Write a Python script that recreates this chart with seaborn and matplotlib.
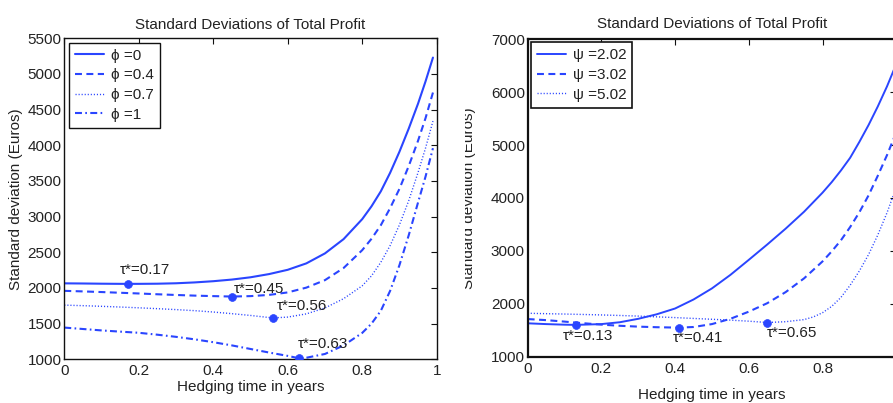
import matplotlib
matplotlib.use("Agg")
import matplotlib.pyplot as plt
import seaborn as sns
from matplotlib.transforms import Bbox, TransformedBbox

# ---- left panel: standard deviation of total profit for several phi ----
phi0_t = [0, .05, .1, .15, .17, .2, .25, .3, .35, .4, .45, .5, .55, .6, .65, .7, .75, .8, .825,
          .85, .875, .9, .925, .95, .97, .99]
phi0_sd = [2065, 2063, 2060, 2058, 2058, 2058, 2060, 2066, 2078, 2095, 2118, 2150, 2195, 2255, 2345,
           2485, 2685, 2965, 3145, 3355, 3615, 3910, 4235, 4585, 4895, 5230]

phi04_t = [0, .05, .1, .15, .2, .25, .3, .35, .4, .45, .5, .55, .6, .65, .7, .75, .8, .825, .85,
           .875, .9, .925, .95, .97, .99]
phi04_sd = [1960, 1952, 1943, 1933, 1923, 1912, 1902, 1893, 1886, 1880, 1886, 1903, 1938, 2005, 2110,
            2280, 2530, 2690, 2880, 3120, 3390, 3710, 4065, 4380, 4740]

phi07_t = [0, .05, .1, .15, .2, .25, .3, .35, .4, .45, .5, .56, .6, .65, .7, .75, .8, .825, .85,
           .875, .9, .925, .95, .97, .99]
phi07_sd = [1760, 1752, 1743, 1733, 1722, 1710, 1697, 1682, 1663, 1640, 1615, 1580, 1592, 1637, 1720,
            1850, 2030, 2170, 2360, 2595, 2885, 3225, 3620, 3960, 4340]

phi1_t = [0, .05, .1, .15, .2, .25, .3, .35, .4, .45, .5, .55, .6, .63, .65, .7, .75, .8, .825,
          .85, .875, .9, .925, .95, .97, .99]
phi1_sd = [1445, 1425, 1405, 1388, 1372, 1345, 1315, 1280, 1240, 1195, 1145, 1095, 1048, 1015, 1022,
           1075, 1195, 1370, 1500, 1680, 1960, 2320, 2740, 3200, 3560, 3960]

phi_labels = ["ϕ =0", "ϕ =0.4", "ϕ =0.7", "ϕ =1"]
phi_tau = [0.17, 0.45, 0.56, 0.63]
phi_tau_sd = [2058, 1880, 1580, 1015]

# ---- right panel: standard deviation of total profit for several psi ----
psi202_t = [0, .05, .1, .13, .2, .25, .3, .35, .4, .45, .5, .55, .6, .65, .7, .75, .8, .825, .85,
            .875, .9, .925, .95, .975, 1.0]
psi202_sd = [1630, 1615, 1604, 1600, 1615, 1650, 1715, 1800, 1910, 2080, 2290, 2545, 2830, 3120, 3420,
             3740, 4100, 4300, 4520, 4760, 5060, 5380, 5730, 6110, 6530]

psi302_t = [0, .05, .1, .15, .2, .25, .3, .35, .41, .45, .5, .55, .6, .65, .7, .75, .8, .825, .85,
            .875, .9, .925, .95, .975, 1.0]
psi302_sd = [1710, 1690, 1662, 1632, 1605, 1583, 1567, 1556, 1548, 1560, 1615, 1715, 1850, 2010, 2220,
             2480, 2800, 2990, 3200, 3450, 3730, 4050, 4420, 4810, 5240]

psi502_t = [0, .05, .1, .15, .2, .25, .3, .35, .4, .45, .5, .55, .6, .65, .7, .75, .775, .8, .825,
            .85, .875, .9, .925, .95, .975, 1.0]
psi502_sd = [1820, 1812, 1805, 1797, 1788, 1778, 1766, 1752, 1738, 1722, 1706, 1690, 1670, 1645, 1660,
             1700, 1750, 1830, 1950, 2120, 2350, 2620, 2930, 3300, 3720, 4200]

psi_labels = ["ψ =2.02", "ψ =3.02", "ψ =5.02"]
psi_tau = [0.13, 0.41, 0.65]
psi_tau_sd = [1600, 1548, 1645]

x_ticks = [0, 0.2, 0.4, 0.6, 0.8, 1]
left_x_tick_labels = ["0", "0.2", "0.4", "0.6", "0.8", "1"]
right_x_tick_labels = ["0", "0.2", "0.4", "0.6", "0.8", ""]
left_y_ticks = [1000, 1500, 2000, 2500, 3000, 3500, 4000, 4500, 5000, 5500]
right_y_ticks = [1000, 2000, 3000, 4000, 5000, 6000, 7000]

# ---- styling ----
sns.set_theme(style="white")
plt.rcParams["font.family"] = ["Liberation Sans", "DejaVu Sans"]
plt.rcParams["lines.scale_dashes"] = False
plt.rcParams["text.color"] = "#222222"
plt.rcParams["axes.labelcolor"] = "#222222"
plt.rcParams["xtick.color"] = "#222222"
plt.rcParams["ytick.color"] = "#222222"

BLUE = "#2a45ff"
FS = 11
SOLID = "-"
DASHED = (0, (5, 3.2))
DOTTED = (0, (0.8, 1.4))
DASHDOT = (0, (5, 2.4, 1.2, 2.4))

fig = plt.figure(figsize=(8.93, 4.03), dpi=100)
ax1 = fig.add_axes([0.0720, 0.1084, 0.4170, 0.7965])
ax2 = fig.add_axes([0.5909, 0.1151, 0.4127, 0.7873])


def style_axes(ax, spine_lw):
    ax.tick_params(direction="in", length=4, width=0.8, top=True, right=True,
                   labelsize=FS, color="#111111")
    ax.tick_params(axis="x", pad=3.6)
    ax.tick_params(axis="y", pad=2.0)
    for s in ax.spines.values():
        s.set_color("#111111")
        s.set_linewidth(spine_lw)
    ax.set_facecolor("white")


# left panel curves
left_series = [(phi0_t, phi0_sd, SOLID, 1.5), (phi04_t, phi04_sd, DASHED, 1.5),
               (phi07_t, phi07_sd, DOTTED, 1.0), (phi1_t, phi1_sd, DASHDOT, 1.5)]
for (t, sd, ls, lw), lab in zip(left_series, phi_labels):
    sns.lineplot(x=t, y=sd, ax=ax1, color=BLUE, linestyle=ls, lw=lw, label=lab,
                 estimator=None, sort=False)
sns.scatterplot(x=phi_tau, y=phi_tau_sd, ax=ax1, color=BLUE, s=32, edgecolor=BLUE,
                linewidth=0.5, zorder=5, legend=False)
left_text_pos = [(0.148, 2250), (0.455, 1990), (0.57, 1750), (0.627, 1210)]
for tau, (tx, ty) in zip(phi_tau, left_text_pos):
    ax1.text(tx, ty, f"τ*={tau:.2f}", fontsize=FS, ha="left", va="center")

ax1.set_xlim(0, 1)
ax1.set_ylim(1000, 5500)
ax1.set_xticks(x_ticks)
ax1.set_xticklabels(left_x_tick_labels)
ax1.set_yticks(left_y_ticks)
ax1.set_yticklabels([str(v) for v in left_y_ticks])
style_axes(ax1, 1.0)
ax1.set_title("Standard Deviations of Total Profit", fontsize=FS, pad=6.5)
ax1.set_xlabel("Hedging time in years", fontsize=FS)
ax1.set_ylabel("Standard deviation (Euros)", fontsize=FS)
ax1.xaxis.set_label_coords(0.5, -0.064)
ax1.yaxis.set_label_coords(-0.111, 0.5)
leg1 = ax1.legend(loc="upper left", fontsize=FS, frameon=True, fancybox=False,
                  framealpha=1, edgecolor="#111111", borderpad=0.4, handlelength=1.9,
                  handletextpad=0.45, labelspacing=0.37, borderaxespad=0.28)
leg1.get_frame().set_linewidth(1.0)

# right panel curves
right_series = [(psi202_t, psi202_sd, SOLID, 1.4), (psi302_t, psi302_sd, DASHED, 1.5),
                (psi502_t, psi502_sd, DOTTED, 1.0)]
for (t, sd, ls, lw), lab in zip(right_series, psi_labels):
    sns.lineplot(x=t, y=sd, ax=ax2, color=BLUE, linestyle=ls, lw=lw, label=lab,
                 estimator=None, sort=False)
sns.scatterplot(x=psi_tau, y=psi_tau_sd, ax=ax2, color=BLUE, s=32, edgecolor=BLUE,
                linewidth=0.5, zorder=5, legend=False)
right_text_pos = [(0.0966, 1391), (0.393, 1359), (0.648, 1442)]
for tau, (tx, ty) in zip(psi_tau, right_text_pos):
    ax2.text(tx, ty, f"τ*={tau:.2f}", fontsize=FS, ha="left", va="center")

ax2.set_xlim(0, 1)
ax2.set_ylim(1000, 7000)
ax2.set_xticks(x_ticks)
ax2.set_xticklabels(right_x_tick_labels)
ax2.set_yticks(right_y_ticks)
ax2.set_yticklabels([str(v) for v in right_y_ticks])
style_axes(ax2, 1.6)
ax2.set_title("Standard Deviations of Total Profit", fontsize=FS, pad=8.5)
ax2.set_xlabel("Hedging time in years", fontsize=FS)
ylab2 = ax2.set_ylabel("Standard deviation (Euros)", fontsize=FS)
ax2.xaxis.set_label_coords(0.5, -0.100)
ax2.yaxis.set_label_coords(-0.140, 0.5)
# the right-hand y label is trimmed on its left side
ylab2.set_clip_box(TransformedBbox(Bbox([[465 / 893, 0], [1, 1]]), fig.transFigure))
ylab2.set_clip_on(True)
leg2 = ax2.legend(loc="upper left", fontsize=FS, frameon=True, fancybox=False,
                  framealpha=1, edgecolor="#111111", borderpad=0.4, handlelength=1.9,
                  handletextpad=0.45, labelspacing=0.37, borderaxespad=0.2)
leg2.get_frame().set_linewidth(1.2)

fig.savefig("out.png", dpi=100, facecolor="white")
